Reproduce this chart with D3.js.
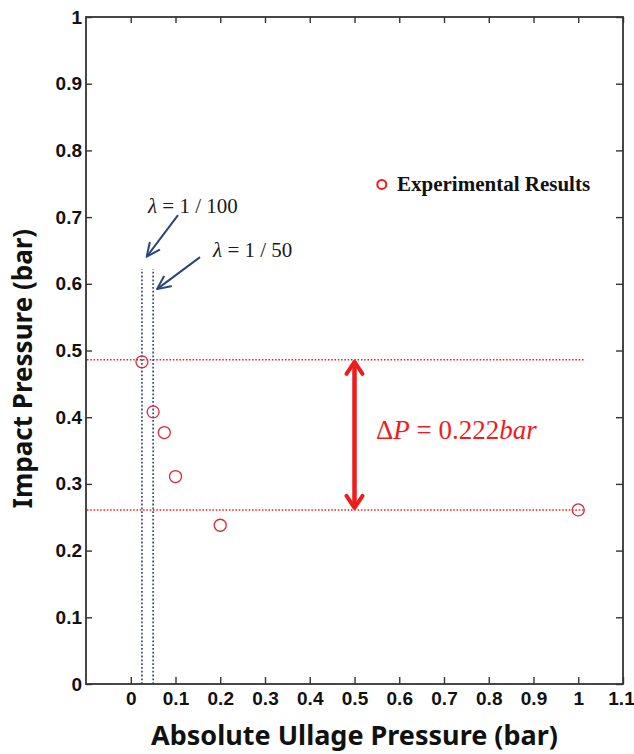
<!DOCTYPE html>
<html lang="en">
<head>
<meta charset="UTF-8">
<title>Impact Pressure vs Absolute Ullage Pressure</title>
<script src="https://d3js.org/d3.v7.min.js"></script>
<style>
    body { margin: 0; background: #fff; }
    svg { display: block; }
    .tick line { stroke: #333; stroke-width: 1.4px; }
    .axis-title { font-family: 'Noto Sans', 'DejaVu Sans', sans-serif; font-weight: bold; fill: #111; }
    .serif { font-family: 'Liberation Serif', 'Times New Roman', serif; }
</style>
</head>
<body>
<svg id="chart" width="634" height="754"></svg>
<script>
// --- data ---
const ullage = [0.025, 0.05, 0.075, 0.1, 0.2, 1.0];
const impact = [0.483, 0.408, 0.377, 0.311, 0.238, 0.261];
const xTicks = [0, 0.1, 0.2, 0.3, 0.4, 0.5, 0.6, 0.7, 0.8, 0.9, 1, 1.1];
const yTicks = [0, 0.1, 0.2, 0.3, 0.4, 0.5, 0.6, 0.7, 0.8, 0.9, 1];
const pressureLevels = [0.486, 0.261];   // red dotted lines
const lambdaX = [0.025, 0.05];           // blue dotted lines
const lambdaLabels = ["1 / 100", "1 / 50"];
const deltaP = "0.222";

const svg = d3.select("#chart");
const margin = { top: 17, right: 11, bottom: 70, left: 86 };
const W = 634, H = 754;

const x = d3.scaleLinear().domain([-0.1, 1.1]).range([margin.left, W - margin.right]);
const y = d3.scaleLinear().domain([0, 1]).range([H - margin.bottom, margin.top]);
const fmt = d => +d.toFixed(1);

function styleLabels(g) {
    g.select(".domain").remove();
    g.selectAll(".tick text")
        .attr("font-family", "'Liberation Sans', Arial, sans-serif")
        .attr("font-weight", "bold").attr("font-size", 19).attr("fill", "#111");
}

// axes (ticks point inward)
svg.append("g").attr("transform", `translate(0,${y(0)})`)
    .call(d3.axisBottom(x).tickValues(xTicks).tickFormat(fmt).tickSize(-7).tickSizeOuter(0).tickPadding(8))
    .call(styleLabels)
    .call(g => g.selectAll(".tick text").filter(d => d > 1.05).attr("dx", -2));
svg.append("g").attr("transform", `translate(0,${y(1)})`)
    .call(d3.axisTop(x).tickValues(xTicks).tickFormat("").tickSize(-6).tickSizeOuter(0))
    .call(g => g.select(".domain").remove());
svg.append("g").attr("transform", `translate(${x(-0.1)},0)`)
    .call(d3.axisLeft(y).tickValues(yTicks).tickFormat(fmt).tickSize(-6).tickSizeOuter(0).tickPadding(4))
    .call(styleLabels);
svg.append("g").attr("transform", `translate(${x(1.1)},0)`)
    .call(d3.axisRight(y).tickValues(yTicks).tickFormat("").tickSize(-7).tickSizeOuter(0))
    .call(g => g.select(".domain").remove());

// frame
svg.append("rect")
    .attr("x", x(-0.1)).attr("y", y(1))
    .attr("width", x(1.1) - x(-0.1)).attr("height", y(0) - y(1))
    .attr("fill", "none").attr("stroke", "#333").attr("stroke-width", 1.8);

// red dotted pressure levels
svg.append("g").selectAll("line").data(pressureLevels).join("line")
    .attr("x1", x(-0.1) + 1).attr("x2", x(1.012))
    .attr("y1", d => y(d)).attr("y2", d => y(d))
    .attr("stroke", "#f01818").attr("stroke-width", 1.5).attr("stroke-dasharray", "1.5,1.8");

// blue dotted lambda lines
svg.append("g").selectAll("line").data(lambdaX).join("line")
    .attr("x1", d => x(d)).attr("x2", d => x(d))
    .attr("y1", y(0)).attr("y2", y(0.622))
    .attr("stroke", "#2a4470").attr("stroke-width", 1.6).attr("stroke-dasharray", "1.8,2");

// data points
svg.append("g").selectAll("circle").data(ullage).join("circle")
    .attr("cx", d => x(d)).attr("cy", (d, i) => y(impact[i])).attr("r", 6)
    .attr("fill", "none").attr("stroke", "#d8283a").attr("stroke-width", 1.3);

// annotation arrows
const navy = "#2d4677";
function arrow(x0, y0, x1, y1, color, width, headLen, headHalf) {
    const a = Math.atan2(y1 - y0, x1 - x0);
    const hx = (s) => [x1 - headLen * Math.cos(a) + s * headHalf * Math.sin(a),
                       y1 - headLen * Math.sin(a) - s * headHalf * Math.cos(a)];
    svg.append("line").attr("x1", x0).attr("y1", y0).attr("x2", x1).attr("y2", y1)
        .attr("stroke", color).attr("stroke-width", width);
    svg.append("polyline")
        .attr("points", [hx(1), [x1, y1], hx(-1)].map(p => p.join(",")).join(" "))
        .attr("fill", "none").attr("stroke", color).attr("stroke-width", width)
        .attr("stroke-linejoin", "round").attr("stroke-linecap", "round");
}
arrow(x(0.1056), y(0.703), x(0.0356), y(0.6406), navy, 2, 13, 6);
arrow(x(0.1548), y(0.640), x(0.0587), y(0.592), navy, 2, 13, 6);

const lambdaPos = [[0.0385, 0.706], [0.184, 0.640]];
lambdaLabels.forEach((lab, i) => {
    const t = svg.append("text").attr("class", "serif")
        .attr("x", x(lambdaPos[i][0])).attr("y", y(lambdaPos[i][1]))
        .attr("font-size", 21).attr("fill", "#1a1a1a");
    t.append("tspan").attr("font-style", "italic").text("λ");
    t.append("tspan").text(" = " + lab);
});

// red double arrow
const red = "#ee1c1c";
arrow(x(0.5), y(pressureLevels[1]) - 2, x(0.5), y(pressureLevels[0]) + 2, red, 4, 12, 8);
arrow(x(0.5), y(pressureLevels[0]) + 2, x(0.5), y(pressureLevels[1]) - 2, red, 4, 12, 8);

const dp = svg.append("text").attr("class", "serif")
    .attr("x", x(0.548)).attr("y", y(0.367))
    .attr("font-size", 27).attr("fill", red);
dp.append("tspan").text("Δ");
dp.append("tspan").attr("font-style", "italic").text("P");
dp.append("tspan").text(" = " + deltaP);
dp.append("tspan").attr("font-style", "italic").text("bar");

// legend
svg.append("circle").attr("cx", x(0.561)).attr("cy", y(0.749)).attr("r", 4.5)
    .attr("fill", "none").attr("stroke", "#ee1c1c").attr("stroke-width", 2);
svg.append("text").attr("class", "serif")
    .attr("x", x(0.595)).attr("y", y(0.749) + 7)
    .attr("font-size", 21).attr("font-weight", "bold").attr("fill", "#111")
    .text("Experimental Results");

// axis titles
svg.append("text").attr("class", "axis-title")
    .attr("x", (x(-0.1) + x(1.1)) / 2).attr("y", 745)
    .attr("text-anchor", "middle").attr("font-size", 27)
    .text("Absolute Ullage Pressure  (bar)");
svg.append("text").attr("class", "axis-title")
    .attr("transform", `translate(32,${(y(0) + y(1)) / 2 + 18}) rotate(-90)`)
    .attr("text-anchor", "middle").attr("font-size", 26)
    .text("Impact  Pressure  (bar)");
</script>
</body>
</html>
